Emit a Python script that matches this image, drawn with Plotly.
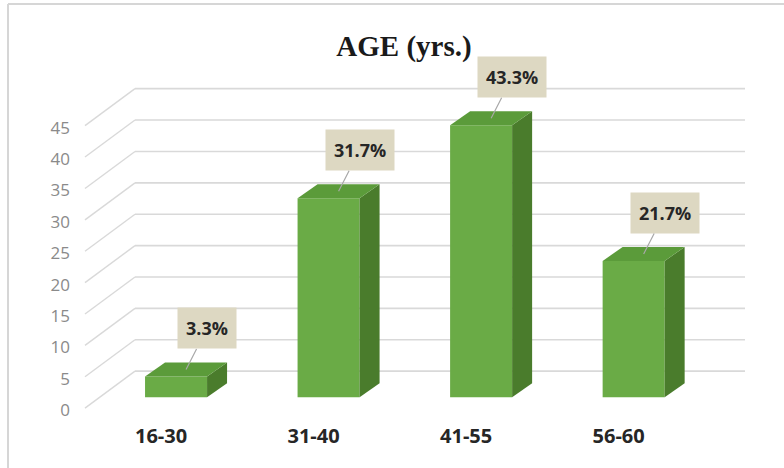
import plotly.graph_objects as go

# ---- data ----
categories = ["16-30", "31-40", "41-55", "56-60"]
values = [3.3, 31.7, 43.3, 21.7]
value_labels = ["3.3%", "31.7%", "43.3%", "21.7%"]
y_ticks = [0, 5, 10, 15, 20, 25, 30, 35, 40, 45]
title_text = "AGE (yrs.)"

# ---- layout constants ----
FIG_W, FIG_H = 784, 468
M_L, M_R, M_T, M_B = 83, 39, 77, 52
PLOT_W = FIG_W - M_L - M_R
PLOT_H = FIG_H - M_T - M_B
Y_MIN, Y_MAX = -3, 51
PX_PER_Y = PLOT_H / (Y_MAX - Y_MIN)
X_MIN, X_MAX = -0.61, 3.73
BAR_W = 0.4066
BAR_HALF_PX = 31
DEPTH_DX = 20
DEPTH_DY = 14 / PX_PER_Y
WALL_PX = 52          # back wall starts this many px right of plot left
BACK_SHIFT = 26       # back wall gridline pixel offset (up) from bar scale
FRONT_SHIFT = -11     # front end of side-wall line (down)

FRONT = "#6aab46"
SIDE = "#4a7c2c"
TOP = "#5b9b3a"
GRID = "#d9d9d9"

fig = go.Figure()
fig.add_trace(go.Bar(
    x=list(range(len(categories))), y=values, width=BAR_W,
    marker=dict(color=FRONT, line=dict(width=0)), hoverinfo="skip",
))

shapes = []
# back wall gridlines and side wall diagonals
for v in y_ticks:
    shapes.append(dict(type="line", xref="paper", yref="y", layer="below",
                       x0=WALL_PX / PLOT_W, x1=1, ysizemode="pixel", yanchor=v,
                       y0=BACK_SHIFT, y1=BACK_SHIFT,
                       line=dict(color=GRID, width=1.6)))
    shapes.append(dict(type="line", xref="paper", yref="y", layer="below",
                       xsizemode="pixel", xanchor=0, x0=2, x1=WALL_PX,
                       ysizemode="pixel", yanchor=v, y0=FRONT_SHIFT, y1=BACK_SHIFT,
                       line=dict(color=GRID, width=1.4)))

# 3D faces of bars
for i, v in enumerate(values):
    h = BAR_HALF_PX
    side_path = (f"M {h},0 L {h + DEPTH_DX},{DEPTH_DY} L {h + DEPTH_DX},{v + DEPTH_DY} "
                 f"L {h},{v} Z")
    top_path = (f"M {-h},{v} L {-h + DEPTH_DX},{v + DEPTH_DY} L {h + DEPTH_DX},{v + DEPTH_DY} "
                f"L {h},{v} Z")
    shapes.append(dict(type="path", xref="x", yref="y", xsizemode="pixel", xanchor=i,
                       path=side_path, fillcolor=SIDE, line=dict(width=0), layer="above"))
    shapes.append(dict(type="path", xref="x", yref="y", xsizemode="pixel", xanchor=i,
                       path=top_path, fillcolor=TOP, line=dict(width=0), layer="above"))

# outer frame (left and top)
px2x = lambda px: (px - M_L) / PLOT_W
px2y = lambda py: (FIG_H - M_B - py) / PLOT_H
shapes.append(dict(type="line", xref="paper", yref="paper", x0=px2x(8), x1=px2x(8),
                   y0=px2y(FIG_H), y1=px2y(4), line=dict(color="#d6d6d6", width=2)))
shapes.append(dict(type="line", xref="paper", yref="paper", x0=px2x(8), x1=px2x(FIG_W),
                   y0=px2y(4), y1=px2y(4), line=dict(color="#d6d6d6", width=2)))

annotations = []
for i, (v, lab) in enumerate(zip(values, value_labels)):
    annotations.append(dict(
        x=i, y=v, xref="x", yref="y", text=f"<b>{lab}</b>",
        xshift=10, yshift=7, ax=21, ay=-41, axref="pixel", ayref="pixel",
        showarrow=True, arrowhead=0, arrowwidth=1.2, arrowcolor="#a8a8a8", standoff=0,
        bgcolor="#ddd8c2", borderpad=8,
        font=dict(family="Open Sans", size=18, color="#262626"),
    ))

fig.update_layout(
    width=FIG_W, height=FIG_H,
    margin=dict(l=M_L, r=M_R, t=M_T, b=M_B),
    paper_bgcolor="white", plot_bgcolor="white",
    showlegend=False,
    title=dict(text=f"<b>{title_text}</b>", xref="container", yref="container",
               x=404 / FIG_W, y=1 - 46 / FIG_H, xanchor="center", yanchor="middle",
               font=dict(family="Liberation Serif", size=29, color="#1a1a1a")),
    xaxis=dict(range=[X_MIN, X_MAX], tickvals=list(range(len(categories))),
               ticktext=[f"<b>{c}</b>" for c in categories],
               showgrid=False, zeroline=False, showline=False, ticks="",
               ticklabelshift=-15, ticklabelstandoff=6,
               tickfont=dict(family="Open Sans", size=20, color="#262626")),
    yaxis=dict(range=[Y_MIN, Y_MAX], tickvals=y_ticks,
               showgrid=False, zeroline=False, showline=False, ticks="",
               ticklabelshift=13, ticklabelstandoff=12,
               tickfont=dict(family="Open Sans", size=17, color="#8a8a8a")),
    shapes=shapes, annotations=annotations,
)

fig.write_html("out.html")
